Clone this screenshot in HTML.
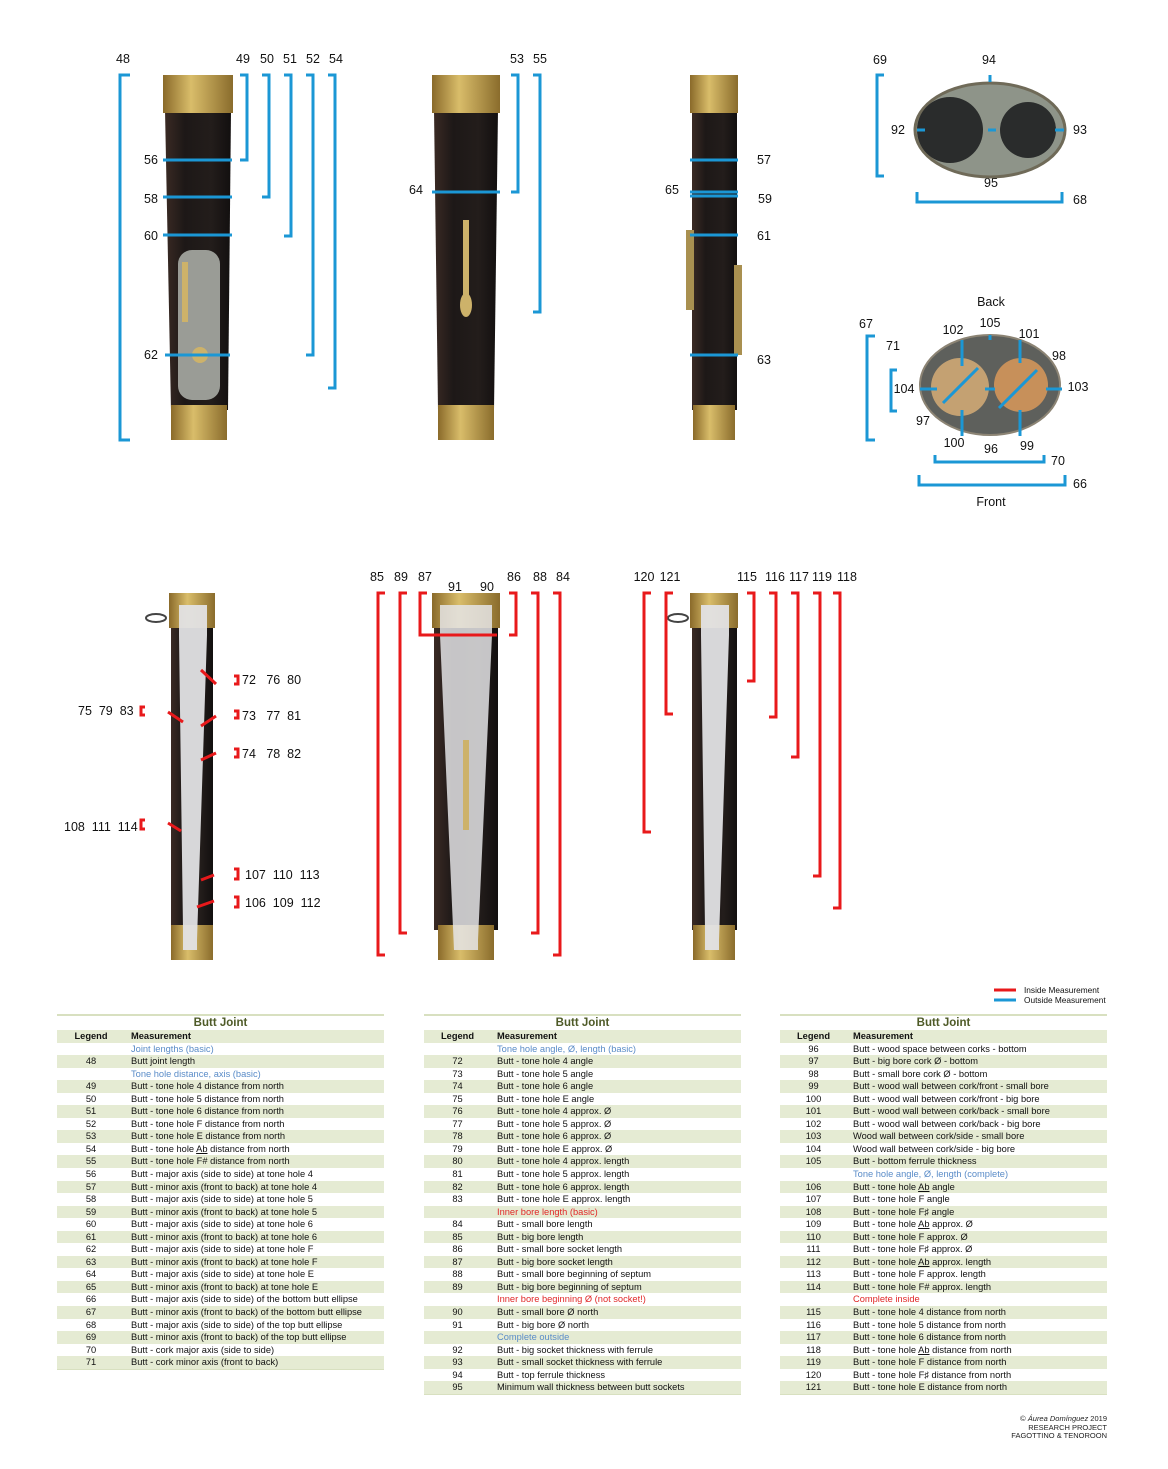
<!DOCTYPE html>
<html><head><meta charset="utf-8">
<style>
body{margin:0;background:#fff;width:1168px;height:1469px;position:relative;overflow:hidden;font-family:"Liberation Sans",Arial,sans-serif}
svg{position:absolute;left:0;top:0}
svg text{white-space:pre}
.t{position:absolute;border-collapse:collapse;font-size:9.3px;color:#111;table-layout:fixed}
.t td{height:12.55px;padding:0;line-height:12.55px;white-space:nowrap;overflow:hidden}
.t td:first-child{text-align:center}
.t td:nth-child(2){padding-left:6px}
.t tr:nth-child(even) td{background:#e5ebd3}
.t .ti td{background:#fff;font-weight:bold;font-size:11.5px;color:#4e5a27;text-align:center;border-top:2px solid #d8e0c0;height:14px;line-height:14px}
.t .hd td{font-weight:bold}
.b{color:#5a8cc8}.r{color:#e02828}
.t tr:last-child td{border-bottom:1px solid #d8e0c0}
</style></head><body>
<svg width="1168" height="1012" font-family="Liberation Sans, Arial, sans-serif" font-size="12.5" fill="#111">
<defs>
<linearGradient id="wood" x1="0" x2="1"><stop offset="0" stop-color="#3a2a24"/><stop offset=".3" stop-color="#1d1817"/><stop offset=".7" stop-color="#231d1b"/><stop offset="1" stop-color="#120f0f"/></linearGradient>
<linearGradient id="brass" x1="0" x2="1"><stop offset="0" stop-color="#8a6a2a"/><stop offset=".4" stop-color="#d9bd6a"/><stop offset="1" stop-color="#8a6c2c"/></linearGradient>
</defs>
<g>
<path d="M165 110H231L228 410H171Z" fill="url(#wood)"/>
<rect x="163" y="75" width="70" height="38" fill="url(#brass)"/>
<rect x="171" y="405" width="56" height="35" fill="url(#brass)"/>
<rect x="178" y="250" width="42" height="150" rx="14" fill="#9a9c96"/>
<rect x="182" y="262" width="6" height="60" fill="#cdb26a"/><circle cx="200" cy="355" r="8" fill="#cdb26a"/>
<path d="M434 110H498L494 410H438Z" fill="url(#wood)"/>
<rect x="432" y="75" width="68" height="38" fill="url(#brass)"/>
<rect x="438" y="405" width="56" height="35" fill="url(#brass)"/>
<rect x="463" y="220" width="6" height="90" fill="#cdb26a"/><ellipse cx="466" cy="305" rx="6" ry="12" fill="#cdb26a"/>
<rect x="692" y="110" width="45" height="300" fill="url(#wood)"/>
<rect x="690" y="75" width="48" height="38" fill="url(#brass)"/>
<rect x="693" y="405" width="42" height="35" fill="url(#brass)"/>
<rect x="686" y="230" width="8" height="80" fill="#a99050"/><rect x="734" y="265" width="8" height="90" fill="#a99050"/>
</g>
<g stroke="#1b97d5" stroke-width="3" fill="none">
<path d="M130 75H120V440H130"/>
<path d="M240 75H247V160H240M262 75H269V197H262M284 75H291V236H284M306 75H313V355H306M328 75H335V388H328"/>
<path d="M511 75H518V192H511M533 75H540V312H533"/>
<path d="M163 160H232M163 197H232M163 235H232M165 355H230M432 192H500M690 160H738M690 192H738M690 196H738M690 235H738M690 355H738"/>
<path d="M884 75H877V176H884M917 192V202H1062V192"/>
<path d="M875 336H867V440H875M897 370H891V411H897M935 455V462H1044V455M919 475V485H1065V475"/>
</g>
<g text-anchor="middle">
<text x="123" y="63">48</text><text x="243" y="63">49</text><text x="267" y="63">50</text><text x="290" y="63">51</text><text x="313" y="63">52</text><text x="336" y="63">54</text>
<text x="517" y="63">53</text><text x="540" y="63">55</text>
<text x="151" y="164">56</text><text x="151" y="203">58</text><text x="151" y="240">60</text><text x="151" y="359">62</text>
<text x="416" y="194">64</text><text x="672" y="194">65</text>
<text x="764" y="164">57</text><text x="765" y="203">59</text><text x="764" y="240">61</text><text x="764" y="364">63</text>
<text x="880" y="64">69</text><text x="989" y="64">94</text><text x="898" y="134">92</text><text x="1080" y="134">93</text><text x="991" y="187">95</text><text x="1080" y="204">68</text>
<text x="991" y="306">Back</text><text x="866" y="328">67</text><text x="953" y="334">102</text><text x="990" y="327">105</text><text x="1029" y="338">101</text><text x="1059" y="360">98</text>
<text x="893" y="350">71</text><text x="904" y="393">104</text><text x="1078" y="391">103</text><text x="923" y="425">97</text>
<text x="954" y="447">100</text><text x="991" y="453">96</text><text x="1027" y="450">99</text><text x="1058" y="465">70</text><text x="1080" y="488">66</text><text x="991" y="506">Front</text>
</g>
<ellipse cx="990" cy="130" rx="75" ry="47" fill="#8e9489" stroke="#6f6a58" stroke-width="3"/>
<circle cx="950" cy="130" r="33" fill="#2a2c2c"/><circle cx="1028" cy="130" r="28" fill="#2a2c2c"/>
<g stroke="#1b97d5" stroke-width="3"><path d="M917 130H925M1055 130H1064M990 75V82M988 130H996"/></g>
<ellipse cx="990" cy="385" rx="70" ry="50" fill="#5e605c" stroke="#8c8474" stroke-width="2"/>
<circle cx="960" cy="387" r="29" fill="#c4a172"/><circle cx="1021" cy="385" r="27" fill="#c7905a"/>
<g stroke="#1b97d5" stroke-width="3"><path d="M962 340V366M1020 340V363M962 410V436M1020 410V436M920 389H937M1046 389H1062M985 389H995M990 335V340M943 403L978 368M999 408L1037 370"/></g>
<g>
<rect x="171" y="625" width="42" height="305" fill="url(#wood)"/>
<rect x="169" y="593" width="46" height="35" fill="url(#brass)"/>
<rect x="171" y="925" width="42" height="35" fill="url(#brass)"/>
<path d="M179 605H207V635L197 940V950H183V930L179 635Z" fill="#e2e2e4" opacity=".95"/>
<ellipse cx="156" cy="618" rx="10" ry="4" fill="none" stroke="#444" stroke-width="2"/>
<rect x="434" y="625" width="64" height="305" fill="url(#wood)"/>
<rect x="432" y="593" width="68" height="35" fill="url(#brass)"/>
<rect x="438" y="925" width="56" height="35" fill="url(#brass)"/>
<path d="M440 605H492V635L478 940V950H454L440 635Z" fill="#e4e4e6" opacity=".85"/>
<rect x="463" y="740" width="6" height="90" fill="#cdb26a"/>
<rect x="692" y="625" width="45" height="305" fill="url(#wood)"/>
<rect x="690" y="593" width="48" height="35" fill="url(#brass)"/>
<rect x="693" y="925" width="42" height="35" fill="url(#brass)"/>
<path d="M701 605H729V635L719 940V950H705V930L701 635Z" fill="#e2e2e4" opacity=".95"/>
<ellipse cx="678" cy="618" rx="10" ry="4" fill="none" stroke="#444" stroke-width="2"/>
</g>
<g stroke="#e8191b" stroke-width="3" fill="none">
<path d="M201 670L216 684M168 712L183 722M201 726L216 716M201 760L216 753M168 823L181 831M201 880L214 875M197 907L214 901"/>
<path d="M234 676H238V684H234M234 711H238V718H234M234 749H238V757H234M234 869H238V879H234M234 897H238V907H234M145 707H141V715H145M145 820H141V829H145"/>
<path d="M385 593H378V955H385M407 593H400V933H407M427 593H420V635H427M421 635H497M509 593H516V635H509M531 593H538V933H531M553 593H560V955H553"/>
<path d="M651 593H644V832H651M673 593H666V714H673M747 593H754V681H747M769 593H776V717H769M791 593H798V757H791M813 593H820V876H813M833 593H840V908H833"/>
</g>
<g text-anchor="middle">
<text x="377" y="581">85</text><text x="401" y="581">89</text><text x="425" y="581">87</text><text x="455" y="591">91</text><text x="487" y="591">90</text><text x="514" y="581">86</text><text x="540" y="581">88</text><text x="563" y="581">84</text>
<text x="644" y="581">120</text><text x="670" y="581">121</text><text x="747" y="581">115</text><text x="775" y="581">116</text><text x="799" y="581">117</text><text x="822" y="581">119</text><text x="847" y="581">118</text>
</g>
<text x="242" y="684">72   76  80</text><text x="242" y="720">73   77  81</text><text x="242" y="758">74   78  82</text>
<text x="245" y="879">107  110  113</text><text x="245" y="907">106  109  112</text>
<text x="78" y="715">75  79  83</text><text x="64" y="831">108  111  114</text>
<g font-size="8.3"><path d="M994 990H1016" stroke="#e8191b" stroke-width="3"/><path d="M994 1000H1016" stroke="#1b97d5" stroke-width="3"/>
<text x="1024" y="993">Inside Measurement</text><text x="1024" y="1003">Outside Measurement</text></g>
</svg>

<table class="t" style="left:57px;top:1014px;width:327px"><colgroup><col style="width:68px"><col></colgroup>
<tr class="ti"><td colspan="2">Butt Joint</td></tr>
<tr class="hd"><td>Legend</td><td>Measurement</td></tr>
<tr><td></td><td class="b">Joint lengths (basic)</td></tr>
<tr><td>48</td><td>Butt joint length</td></tr>
<tr><td></td><td class="b">Tone hole distance, axis (basic)</td></tr>
<tr><td>49</td><td>Butt - tone hole 4 distance from north</td></tr>
<tr><td>50</td><td>Butt - tone hole 5 distance from north</td></tr>
<tr><td>51</td><td>Butt - tone hole 6 distance from north</td></tr>
<tr><td>52</td><td>Butt - tone hole F distance from north</td></tr>
<tr><td>53</td><td>Butt - tone hole E distance from north</td></tr>
<tr><td>54</td><td>Butt - tone hole <u>Ab</u> distance from north</td></tr>
<tr><td>55</td><td>Butt - tone hole F# distance from north</td></tr>
<tr><td>56</td><td>Butt - major axis (side to side) at tone hole 4</td></tr>
<tr><td>57</td><td>Butt - minor axis (front to back) at tone hole 4</td></tr>
<tr><td>58</td><td>Butt - major axis (side to side) at tone hole 5</td></tr>
<tr><td>59</td><td>Butt - minor axis (front to back) at tone hole 5</td></tr>
<tr><td>60</td><td>Butt - major axis (side to side) at tone hole 6</td></tr>
<tr><td>61</td><td>Butt - minor axis (front to back) at tone hole 6</td></tr>
<tr><td>62</td><td>Butt - major axis (side to side) at tone hole F</td></tr>
<tr><td>63</td><td>Butt - minor axis (front to back) at tone hole F</td></tr>
<tr><td>64</td><td>Butt - major axis (side to side) at tone hole E</td></tr>
<tr><td>65</td><td>Butt - minor axis (front to back) at tone hole E</td></tr>
<tr><td>66</td><td>Butt - major axis (side to side) of the bottom butt ellipse</td></tr>
<tr><td>67</td><td>Butt - minor axis (front to back) of the bottom butt ellipse</td></tr>
<tr><td>68</td><td>Butt - major axis (side to side) of the top butt ellipse</td></tr>
<tr><td>69</td><td>Butt - minor axis (front to back) of the top butt ellipse</td></tr>
<tr><td>70</td><td>Butt - cork major axis (side to side)</td></tr>
<tr><td>71</td><td>Butt - cork minor axis (front to back)</td></tr>
</table>

<table class="t" style="left:424px;top:1014px;width:317px"><colgroup><col style="width:67px"><col></colgroup>
<tr class="ti"><td colspan="2">Butt Joint</td></tr>
<tr class="hd"><td>Legend</td><td>Measurement</td></tr>
<tr><td></td><td class="b">Tone hole angle, Ø, length (basic)</td></tr>
<tr><td>72</td><td>Butt - tone hole 4 angle</td></tr>
<tr><td>73</td><td>Butt - tone hole 5 angle</td></tr>
<tr><td>74</td><td>Butt - tone hole 6 angle</td></tr>
<tr><td>75</td><td>Butt - tone hole E angle</td></tr>
<tr><td>76</td><td>Butt - tone hole 4 approx. Ø</td></tr>
<tr><td>77</td><td>Butt - tone hole 5 approx. Ø</td></tr>
<tr><td>78</td><td>Butt - tone hole 6 approx. Ø</td></tr>
<tr><td>79</td><td>Butt - tone hole E approx. Ø</td></tr>
<tr><td>80</td><td>Butt - tone hole 4 approx. length</td></tr>
<tr><td>81</td><td>Butt - tone hole 5 approx. length</td></tr>
<tr><td>82</td><td>Butt - tone hole 6 approx. length</td></tr>
<tr><td>83</td><td>Butt - tone hole E approx. length</td></tr>
<tr><td></td><td class="r">Inner bore length (basic)</td></tr>
<tr><td>84</td><td>Butt - small bore length</td></tr>
<tr><td>85</td><td>Butt - big bore length</td></tr>
<tr><td>86</td><td>Butt - small bore socket length</td></tr>
<tr><td>87</td><td>Butt - big bore socket length</td></tr>
<tr><td>88</td><td>Butt - small bore beginning of septum</td></tr>
<tr><td>89</td><td>Butt - big bore beginning of septum</td></tr>
<tr><td></td><td class="r">Inner bore beginning Ø (not socket!)</td></tr>
<tr><td>90</td><td>Butt - small bore Ø north</td></tr>
<tr><td>91</td><td>Butt - big bore Ø north</td></tr>
<tr><td></td><td class="b">Complete outside</td></tr>
<tr><td>92</td><td>Butt - big socket thickness with ferrule</td></tr>
<tr><td>93</td><td>Butt - small socket thickness with ferrule</td></tr>
<tr><td>94</td><td>Butt - top ferrule thickness</td></tr>
<tr><td>95</td><td>Minimum wall thickness between butt sockets</td></tr>
</table>

<table class="t" style="left:780px;top:1014px;width:327px"><colgroup><col style="width:67px"><col></colgroup>
<tr class="ti"><td colspan="2">Butt Joint</td></tr>
<tr class="hd"><td>Legend</td><td>Measurement</td></tr>
<tr><td>96</td><td>Butt - wood space between corks - bottom</td></tr>
<tr><td>97</td><td>Butt - big bore cork Ø - bottom</td></tr>
<tr><td>98</td><td>Butt - small bore cork Ø - bottom</td></tr>
<tr><td>99</td><td>Butt - wood wall between cork/front - small bore</td></tr>
<tr><td>100</td><td>Butt - wood wall between cork/front - big bore</td></tr>
<tr><td>101</td><td>Butt - wood wall between cork/back - small bore</td></tr>
<tr><td>102</td><td>Butt - wood wall between cork/back - big bore</td></tr>
<tr><td>103</td><td>Wood wall between cork/side - small bore</td></tr>
<tr><td>104</td><td>Wood wall between cork/side - big bore</td></tr>
<tr><td>105</td><td>Butt - bottom ferrule thickness</td></tr>
<tr><td></td><td class="b">Tone hole angle, Ø, length (complete)</td></tr>
<tr><td>106</td><td>Butt - tone hole <u>Ab</u> angle</td></tr>
<tr><td>107</td><td>Butt - tone hole F angle</td></tr>
<tr><td>108</td><td>Butt - tone hole F♯ angle</td></tr>
<tr><td>109</td><td>Butt - tone hole <u>Ab</u> approx. Ø</td></tr>
<tr><td>110</td><td>Butt - tone hole F approx. Ø</td></tr>
<tr><td>111</td><td>Butt - tone hole F♯ approx. Ø</td></tr>
<tr><td>112</td><td>Butt - tone hole <u>Ab</u> approx. length</td></tr>
<tr><td>113</td><td>Butt - tone hole F approx. length</td></tr>
<tr><td>114</td><td>Butt - tone hole F# approx. length</td></tr>
<tr><td></td><td class="r">Complete inside</td></tr>
<tr><td>115</td><td>Butt - tone hole 4 distance from north</td></tr>
<tr><td>116</td><td>Butt - tone hole 5 distance from north</td></tr>
<tr><td>117</td><td>Butt - tone hole 6 distance from north</td></tr>
<tr><td>118</td><td>Butt - tone hole <u>Ab</u> distance from north</td></tr>
<tr><td>119</td><td>Butt - tone hole F distance from north</td></tr>
<tr><td>120</td><td>Butt - tone hole F♯ distance from north</td></tr>
<tr><td>121</td><td>Butt - tone hole E distance from north</td></tr>
</table>

<div style="position:absolute;right:61px;top:1415px;font-size:7.5px;line-height:8.5px;text-align:right;color:#222">© <i>Áurea Domínguez</i> 2019<br>RESEARCH PROJECT<br>FAGOTTINO &amp; TENOROON</div>
</body></html>
